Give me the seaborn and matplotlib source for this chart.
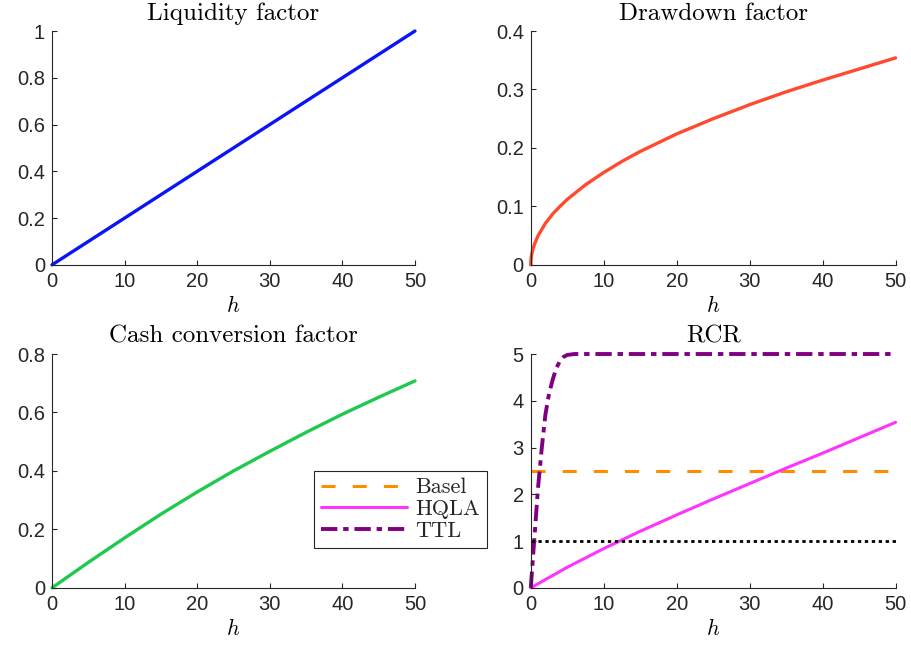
import matplotlib
matplotlib.use("Agg")
import matplotlib.pyplot as plt
import seaborn as sns
import pandas as pd

# --- values ---
h_grid = [0, 5, 10, 15, 20, 25, 30, 35, 40, 45, 50]
liquidity = [0, 0.1, 0.2, 0.3, 0.4, 0.5, 0.6, 0.7, 0.8, 0.9, 1.0]
cash_conversion = [0, 0.087, 0.171, 0.252, 0.328, 0.4, 0.467, 0.532, 0.594, 0.652, 0.708]
hqla = [0, 0.44, 0.84, 1.21, 1.56, 1.9, 2.23, 2.56, 2.88, 3.21, 3.54]

drawdown_h = [0, 0.02, 0.05, 0.1, 0.25, 0.5, 1, 2, 3, 4, 5, 7.5, 10, 12.5, 15, 20, 25,
              30, 35, 40, 45, 50]
drawdown = [0, 0.007, 0.011, 0.016, 0.025, 0.035, 0.05, 0.071, 0.087, 0.1, 0.112, 0.137,
            0.158, 0.177, 0.194, 0.224, 0.25, 0.274, 0.296, 0.316, 0.335, 0.354]

ttl_h = [0, 0.5, 1, 1.5, 2, 2.5, 3, 3.5, 4, 4.5, 5, 6, 50]
ttl = [0, 1.08, 2.15, 2.98, 3.7, 4.15, 4.45, 4.7, 4.85, 4.94, 4.98, 5.0, 5.0]

basel_h = [0, 50]
basel = [2.5, 2.5]
unit_h = [0, 50]
unit_line = [1, 1]

titles = ["Liquidity factor", "Drawdown factor", "Cash conversion factor", "RCR"]
legend_labels = ["Basel", "HQLA", "TTL"]

sns.set_style("ticks")
plt.rcParams["font.family"] = ["Liberation Sans", "DejaVu Sans"]
plt.rcParams["mathtext.fontset"] = "cm"

AX_COLOR = "#262626"

fig = plt.figure(figsize=(9.12, 6.46), dpi=100)
positions = [
    [0.057, 0.590, 0.398, 0.362],
    [0.582, 0.590, 0.400, 0.362],
    [0.057, 0.090, 0.398, 0.362],
    [0.582, 0.090, 0.400, 0.362],
]
axes = [fig.add_axes(p) for p in positions]
ax1, ax2, ax3, ax4 = axes

df_main = pd.DataFrame({"h": h_grid, "liq": liquidity, "cash": cash_conversion, "hqla": hqla})
df_dd = pd.DataFrame({"h": drawdown_h, "dd": drawdown})
df_ttl = pd.DataFrame({"h": ttl_h, "ttl": ttl})

sns.lineplot(data=df_main, x="h", y="liq", ax=ax1, color="#0a14f5", lw=2.4)
sns.lineplot(data=df_dd, x="h", y="dd", ax=ax2, color="#ff4a30", lw=2.4)
sns.lineplot(data=df_main, x="h", y="cash", ax=ax3, color="#1fc94f", lw=2.4)

# RCR panel
sns.lineplot(x=basel_h, y=basel, ax=ax4, color="#ff8c00", lw=2.2, label="Basel")
ax4.lines[-1].set_dashes([4.6, 5.6])
sns.lineplot(data=df_main, x="h", y="hqla", ax=ax4, color="#ff33ff", lw=2.2, label="HQLA")
sns.lineplot(data=df_ttl, x="h", y="ttl", ax=ax4, color="#800080", lw=2.8, label="TTL")
ax4.lines[-1].set_dashes([4.2, 1.5, 1.4, 1.5])
sns.lineplot(x=unit_h, y=unit_line, ax=ax4, color="black", lw=2.0)
ax4.lines[-1].set_dashes([1.2, 1.3])

ylims = [(0, 1), (0, 0.4), (0, 0.8), (0, 5)]
yticks = [[0, 0.2, 0.4, 0.6, 0.8, 1],
          [0, 0.1, 0.2, 0.3, 0.4],
          [0, 0.2, 0.4, 0.6, 0.8],
          [0, 1, 2, 3, 4, 5]]

for ax, title, yl, yt in zip(axes, titles, ylims, yticks):
    ax.set_xlim(0, 50)
    ax.set_ylim(*yl)
    ax.set_xticks([0, 10, 20, 30, 40, 50])
    ax.set_yticks(yt)
    ax.set_yticklabels([f"{v:g}" for v in yt])
    ax.set_title(title, family="cmr10", fontsize=18, color="black", pad=8)
    ax.set_xlabel("$h$", fontsize=16, labelpad=4, color="black")
    ax.set_ylabel("")
    sns.despine(ax=ax)
    for side in ["left", "bottom"]:
        ax.spines[side].set_color(AX_COLOR)
        ax.spines[side].set_linewidth(0.8)
    ax.tick_params(direction="in", length=3.5, width=0.8, color=AX_COLOR,
                   labelcolor=AX_COLOR, labelsize=14.5, pad=5)
    for ln in ax.lines:
        ln.set_clip_on(False)
    if ax.get_legend() is not None:
        ax.get_legend().remove()

handles = ax4.lines[:3]
leg = ax4.legend(handles, legend_labels, loc="center", bbox_to_anchor=(0.439, 0.2116),
                 bbox_transform=fig.transFigure, prop={"family": "cmr10", "size": 16},
                 handlelength=3.9, handletextpad=0.35, labelspacing=0.1,
                 borderpad=0.3, fancybox=False, frameon=True, framealpha=1)
leg.get_frame().set_edgecolor(AX_COLOR)
leg.get_frame().set_linewidth(0.8)

fig.savefig("out.png", dpi=100)
